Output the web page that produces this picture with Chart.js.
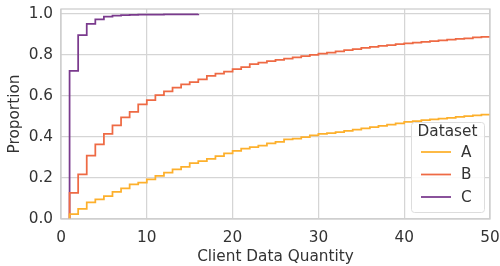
<!DOCTYPE html>
<html>
<head>
<meta charset="utf-8">
<script src="https://cdn.jsdelivr.net/npm/chart.js@4"></script>
<style>
  html, body { margin: 0; padding: 0; background: #fff; }
  #wrap { width: 500px; height: 266px; }
</style>
</head>
<body>
<div id="wrap"><canvas id="myChart" width="500" height="266"></canvas></div>
<script>
// ECDF values, one value per client data quantity (1, 2, 3, ...)
var seriesNames = ['A', 'B', 'C'];
var seriesColors = ['#fdb02c', '#ee6a44', '#7a3a8d'];
var valuesA = [0.024, 0.049, 0.081, 0.096, 0.112, 0.133, 0.150, 0.169, 0.177, 0.194,
  0.210, 0.226, 0.242, 0.255, 0.273, 0.282, 0.293, 0.307, 0.320, 0.333,
  0.343, 0.351, 0.358, 0.369, 0.377, 0.389, 0.392, 0.400, 0.408, 0.415,
  0.419, 0.424, 0.430, 0.436, 0.442, 0.449, 0.455, 0.461, 0.467, 0.474,
  0.478, 0.482, 0.486, 0.490, 0.494, 0.498, 0.502, 0.506, 0.510, 0.514];
var valuesB = [0.128, 0.218, 0.309, 0.364, 0.415, 0.457, 0.496, 0.523, 0.559, 0.580,
  0.605, 0.623, 0.641, 0.657, 0.668, 0.681, 0.698, 0.709, 0.719, 0.732,
  0.741, 0.756, 0.763, 0.770, 0.777, 0.783, 0.789, 0.795, 0.801, 0.807,
  0.812, 0.818, 0.824, 0.829, 0.835, 0.840, 0.845, 0.849, 0.853, 0.857,
  0.861, 0.865, 0.868, 0.872, 0.875, 0.879, 0.882, 0.886, 0.889, 0.892];
var valuesC = [0.723, 0.898, 0.953, 0.974, 0.988, 0.993, 0.995, 0.996, 0.997, 0.998,
  0.998, 0.999, 0.999, 0.999, 0.999, 1.000];
var xTickStep = 10;
var yTickStep = 0.2;

// turn each list into step points, starting from 0 at the first quantity
function toPoints(vals) {
  var pts = [{ x: 1, y: 0 }];
  vals.forEach(function (v, i) { pts.push({ x: i + 1, y: v }); });
  return pts;
}
var allValues = [valuesA, valuesB, valuesC];

var textColor = '#333333';
var gridColor = '#d5d5d5';
var font = 'DejaVu Sans';
var fontSize = 15.3;

// seaborn-like frame and legend inside the plot
var framePlugin = {
  id: 'frame',
  afterDraw: function (chart) {
    var c = chart.ctx, a = chart.chartArea;
    c.save();
    c.strokeStyle = '#cccccc';
    c.lineWidth = 1.25;
    c.strokeRect(a.left, a.top, a.right - a.left, a.bottom - a.top);

    // legend box
    var bx = 411, by = 122, bw = 73, bh = 90;
    c.fillStyle = 'rgba(255,255,255,0.85)';
    c.strokeStyle = '#dddddd';
    c.lineWidth = 1;
    c.beginPath();
    c.roundRect(bx + 0.5, by + 0.5, bw, bh, 3);
    c.fill();
    c.stroke();
    c.fillStyle = textColor;
    c.font = fontSize + 'px "' + font + '"';
    c.textAlign = 'center';
    c.textBaseline = 'middle';
    c.fillText('Dataset', bx + bw / 2, by + 10);
    seriesNames.forEach(function (name, i) {
      var yy = 152 + i * 22.5;
      c.strokeStyle = seriesColors[i];
      c.lineWidth = 1.75;
      c.beginPath();
      c.moveTo(421, yy);
      c.lineTo(451, yy);
      c.stroke();
      c.fillStyle = textColor;
      c.textAlign = 'left';
      c.fillText(name, 461, yy + 1);
    });
    c.restore();
  }
};

var ctx = document.getElementById('myChart').getContext('2d');
var myChart = new Chart(ctx, {
  type: 'line',
  data: {
    datasets: seriesNames.map(function (name, i) {
      return {
        label: name,
        data: toPoints(allValues[i]),
        borderColor: seriesColors[i],
        borderWidth: 1.75,
        stepped: 'before',
        pointRadius: 0,
        fill: false
      };
    })
  },
  options: {
    responsive: false,
    animation: false,
    layout: { padding: { left: 6, right: 10, top: 9, bottom: 0 } },
    scales: {
      x: {
        type: 'linear',
        min: 0,
        max: 50,
        afterFit: function (s) { s.height = 47; s.paddingLeft = 0; s.paddingRight = 0; },
        grid: { color: gridColor, lineWidth: 1.25, drawTicks: false },
        border: { display: false },
        ticks: { stepSize: xTickStep, color: textColor, font: { family: font, size: fontSize }, padding: 10, maxRotation: 0 },
        title: { display: true, text: 'Client Data Quantity', color: textColor, font: { family: font, size: fontSize }, padding: { top: 0, bottom: 0 } }
      },
      y: {
        min: 0,
        max: 1.025,
        afterFit: function (s) { s.width = 55; s.paddingTop = 0; s.paddingBottom = 0; },
        grid: { color: gridColor, lineWidth: 1.25, drawTicks: false },
        border: { display: false },
        ticks: {
          stepSize: yTickStep, includeBounds: false,
          color: textColor, font: { family: font, size: fontSize }, padding: 8,
          callback: function (v) { return v.toFixed(1); }
        },
        title: { display: true, text: 'Proportion', color: textColor, font: { family: font, size: fontSize }, padding: { top: 0, bottom: 0 } }
      }
    },
    plugins: {
      legend: { display: false },
      tooltip: { enabled: false }
    }
  },
  plugins: [framePlugin]
});
</script>
</body>
</html>
